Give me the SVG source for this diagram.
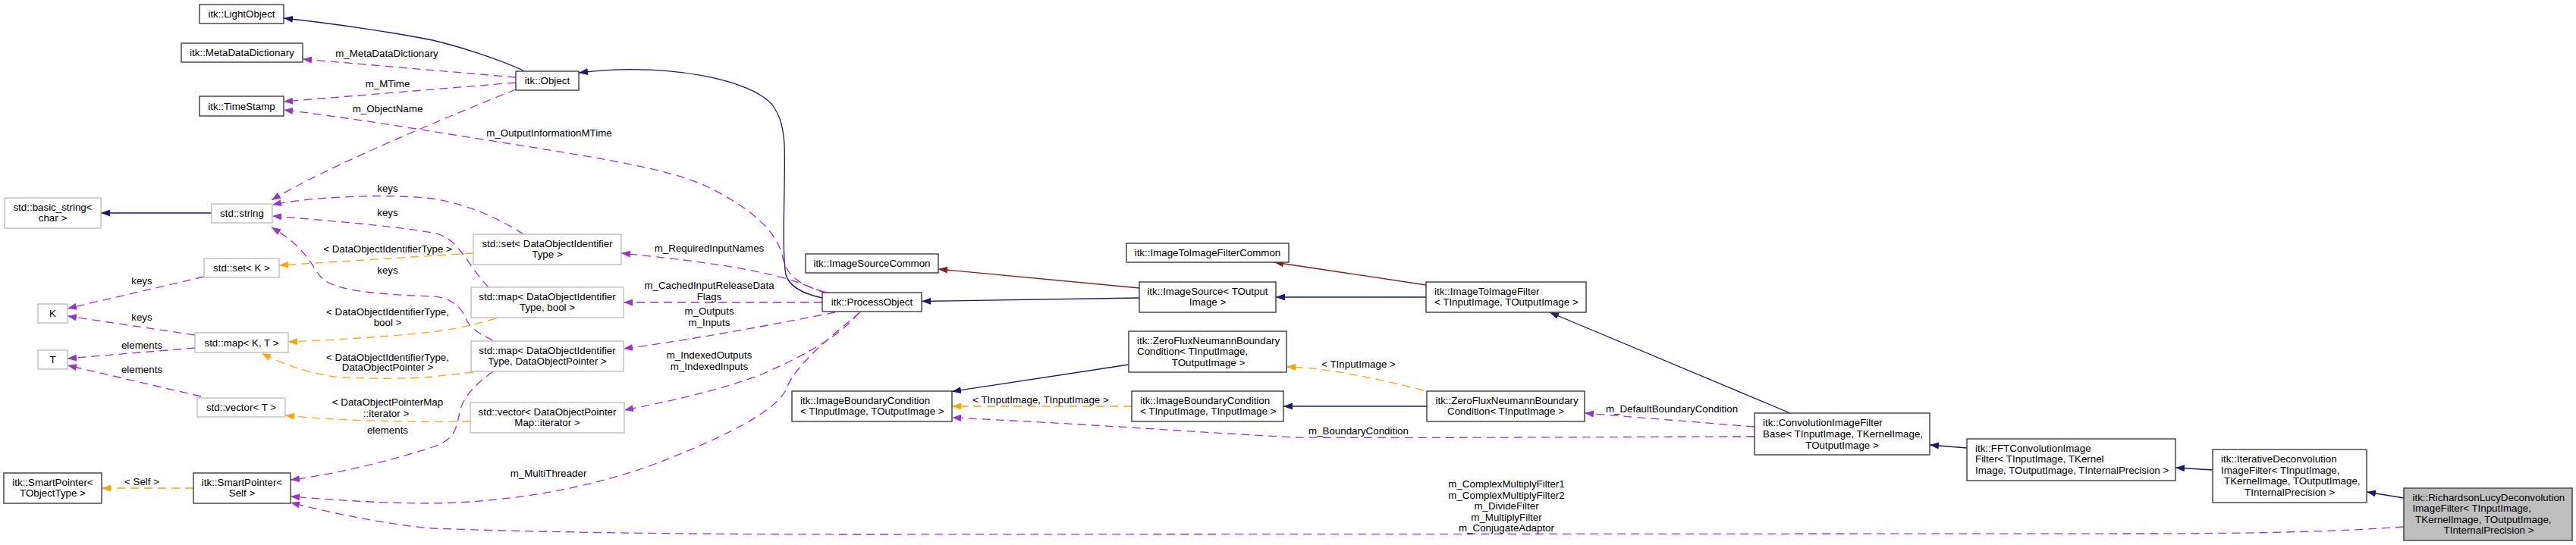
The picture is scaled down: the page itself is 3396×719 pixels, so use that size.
<svg xmlns="http://www.w3.org/2000/svg" width="3396" height="719" viewBox="0 0 3396 719">
<style>
text{font-family:"Liberation Sans",Arial,sans-serif;font-size:13.33px;fill:#000}
.m{text-anchor:middle}
.node rect{fill:#fff;stroke:#3c3c3c;stroke-width:1.4}
.node.gr rect{stroke:#bfbfbf}
.node.cur rect{fill:#bfbfbf}
.e path{fill:none;stroke-width:1.3}
.inh{stroke:#191970}
.prv{stroke:#8b1a1a}
.use{stroke:#9a32cd;stroke-dasharray:11,7}
.tpl{stroke:#ffa500;stroke-dasharray:11,7}
</style>
<defs>
<marker id="aB" viewBox="0 0 12 9" refX="12" refY="4.5" markerWidth="12" markerHeight="9" markerUnits="userSpaceOnUse" orient="auto"><path d="M0,0L12,4.5L0,9z" fill="#191970"/></marker>
<marker id="aR" viewBox="0 0 12 9" refX="12" refY="4.5" markerWidth="12" markerHeight="9" markerUnits="userSpaceOnUse" orient="auto"><path d="M0,0L12,4.5L0,9z" fill="#8b1a1a"/></marker>
<marker id="aP" viewBox="0 0 12 9" refX="12" refY="4.5" markerWidth="12" markerHeight="9" markerUnits="userSpaceOnUse" orient="auto"><path d="M0,0L12,4.5L0,9z" fill="#9a32cd"/></marker>
<marker id="aO" viewBox="0 0 12 9" refX="12" refY="4.5" markerWidth="12" markerHeight="9" markerUnits="userSpaceOnUse" orient="auto"><path d="M0,0L12,4.5L0,9z" fill="#ffa500"/></marker>
</defs>
<rect width="3396" height="719" fill="#fff"/>
<g id="connectors" class="e">
<path class="inh" marker-end="url(#aB)" d="M690,93 C650,75 600,60 570,53 C520,43 440,31 374,24"/>
<path class="inh" marker-end="url(#aB)" d="M1084,393 C1060,388 1040,378 1036,362 C1030,330 1036,230 1034,190 C1032,160 1025,148 1018,138 C990,105 880,82 763,96"/>
<path class="inh" marker-end="url(#aB)" d="M1502,393 L1215,397.5"/>
<path class="inh" marker-end="url(#aB)" d="M1880,392 L1682,392"/>
<path class="inh" marker-end="url(#aB)" d="M2360,545 L2043,412"/>
<path class="inh" marker-end="url(#aB)" d="M2593,591 L2544,587"/>
<path class="inh" marker-end="url(#aB)" d="M2917,620 L2868,617"/>
<path class="inh" marker-end="url(#aB)" d="M3169,657 L3120,649"/>
<path class="inh" marker-end="url(#aB)" d="M1488,481 L1255,516.5"/>
<path class="inh" marker-end="url(#aB)" d="M1881,536 L1692,536"/>
<path class="inh" marker-end="url(#aB)" d="M279,281 L133,281"/>
<path class="prv" marker-end="url(#aR)" d="M1502,380 L1237,355"/>
<path class="prv" marker-end="url(#aR)" d="M1880,376 L1680,346"/>
<path class="use" marker-end="url(#aP)" d="M680,102 L399,78"/>
<text class="m" x="510" y="75">m_MetaDataDictionary</text>
<path class="use" marker-end="url(#aP)" d="M680,109 L374,134"/>
<text class="m" x="511" y="115">m_MTime</text>
<path class="use" marker-end="url(#aP)" d="M1090,386 C1050,376 1036,360 1032,340 C1025,305 990,275 934,247 C880,222 800,210 643,185 C560,172 460,155 374,145"/>
<text class="m" x="724" y="180">m_OutputInformationMTime</text>
<path class="use" marker-end="url(#aP)" d="M680,118 C600,150 430,220 358,264"/>
<text class="m" x="511" y="148">m_ObjectName</text>
<path class="use" marker-end="url(#aP)" d="M690,309 C661,290 620,270 570,262 C520,256 420,258 359,270"/>
<text class="m" x="511" y="253">keys</text>
<path class="use" marker-end="url(#aP)" d="M644,379 C630,365 615,340 606,330 C595,315 580,308 570,307 C520,298 420,290 359,285"/>
<text class="m" x="511" y="285">keys</text>
<path class="use" marker-end="url(#aP)" d="M650,449 C630,440 620,432 615,422 C608,405 595,392 570,391 C520,389 450,386 428,370 C412,358 410,330 358,300"/>
<text class="m" x="511" y="361">keys</text>
<path class="use" marker-end="url(#aP)" d="M269,365 L89,407"/>
<text class="m" x="187" y="375">keys</text>
<path class="use" marker-end="url(#aP)" d="M257,442 L89,417"/>
<text class="m" x="187" y="423">keys</text>
<path class="use" marker-end="url(#aP)" d="M257,459 L89,473"/>
<text class="m" x="187" y="460">elements</text>
<path class="use" marker-end="url(#aP)" d="M265,523 L89,482"/>
<text class="m" x="187" y="492">elements</text>
<path class="tpl" marker-end="url(#aO)" d="M624,334 L368,350"/>
<text class="m" x="511" y="333">&lt; DataObjectIdentifierType &gt;</text>
<path class="tpl" marker-end="url(#aO)" d="M654,420 C620,430 590,436 570,438 C500,445 430,449 380,451"/>
<text class="m" x="511" y="416">&lt; DataObjectIdentifierType,</text>
<text class="m" x="511" y="430">bool &gt;</text>
<path class="tpl" marker-end="url(#aO)" d="M624,491 L570,497 C540,500 480,500 440,497 C410,492 380,484 345,466"/>
<text class="m" x="511" y="476">&lt; DataObjectIdentifierType,</text>
<text class="m" x="511" y="489">DataObjectPointer &gt;</text>
<path class="tpl" marker-end="url(#aO)" d="M620,556 C560,557 450,556 376,548"/>
<text class="m" x="511" y="535">&lt; DataObjectPointerMap</text>
<text class="m" x="509" y="550">::iterator &gt;</text>
<path class="use" marker-end="url(#aP)" d="M650,490 C630,505 612,520 606,543 C602,565 600,580 570,590 C530,603 450,625 383,633"/>
<text class="m" x="511" y="572">elements</text>
<path class="tpl" marker-end="url(#aO)" d="M255,644 L134,644"/>
<text class="m" x="187" y="640">&lt; Self &gt;</text>
<path class="use" marker-end="url(#aP)" d="M1134,412 C1100,440 1050,480 1038,510 C1028,540 960,575 861,613 C760,650 650,663 570,664 C500,664 450,660 383,655"/>
<text class="m" x="723" y="629">m_MultiThreader</text>
<path class="use" marker-end="url(#aP)" d="M3169,695 C3100,700 3000,704 2826,704 L1140,705 C900,705 700,702 570,697 C520,693 450,680 383,663"/>
<text class="m" x="1986" y="643">m_ComplexMultiplyFilter1</text>
<text class="m" x="1986" y="657.5">m_ComplexMultiplyFilter2</text>
<text class="m" x="1986" y="672">m_DivideFilter</text>
<text class="m" x="1986" y="686.5">m_MultiplyFilter</text>
<text class="m" x="1986" y="701">m_ConjugateAdaptor</text>
<path class="use" marker-end="url(#aP)" d="M1086,386 C1060,375 1040,367 1006,360 C960,350 900,342 819,334"/>
<text class="m" x="935" y="332">m_RequiredInputNames</text>
<path class="use" marker-end="url(#aP)" d="M1084,399 L822,399"/>
<text class="m" x="935" y="380.5">m_CachedInputReleaseData</text>
<text class="m" x="935" y="395.5">Flags</text>
<path class="use" marker-end="url(#aP)" d="M1101,412 C1000,432 900,450 822,460"/>
<text class="m" x="935" y="415">m_Outputs</text>
<text class="m" x="935" y="430">m_Inputs</text>
<path class="use" marker-end="url(#aP)" d="M1132,413 C1110,440 1070,465 1006,493 C950,515 880,530 823,541"/>
<text class="m" x="935" y="473">m_IndexedOutputs</text>
<text class="m" x="935" y="488">m_IndexedInputs</text>
<path class="use" marker-end="url(#aP)" d="M2313,576 L2280,576 C2000,577 1800,578 1710,577 C1600,572 1450,560 1255,551"/>
<text class="m" x="1791" y="572.5">m_BoundaryCondition</text>
<path class="use" marker-end="url(#aP)" d="M2313,563 C2250,558 2150,550 2089,545"/>
<text class="m" x="2204" y="543.5">m_DefaultBoundaryCondition</text>
<path class="tpl" marker-end="url(#aO)" d="M1877,515 C1800,495 1740,485 1696,484"/>
<text class="m" x="1791" y="485">&lt; TInputImage &gt;</text>
<path class="tpl" marker-end="url(#aO)" d="M1492,536 L1255,536"/>
<text class="m" x="1372" y="532">&lt; TInputImage, TInputImage &gt;</text>
</g>
<g id="n_LightObject" class="node"><rect x="263" y="6" width="111" height="25"/><text class="m" x="318.5" y="23">itk::LightObject</text></g>
<g id="n_MetaDataDictionary" class="node"><rect x="239" y="57" width="160" height="25"/><text class="m" x="319" y="74">itk::MetaDataDictionary</text></g>
<g id="n_TimeStamp" class="node"><rect x="263" y="127" width="111" height="26"/><text class="m" x="318.5" y="144.5">itk::TimeStamp</text></g>
<g id="n_basic_string" class="node gr"><rect x="6" y="261" width="127" height="40"/><text class="m" x="69.5" y="277.5">std::basic_string&lt;</text><text class="m" x="69.5" y="292">char &gt;</text></g>
<g id="n_string" class="node gr"><rect x="279" y="269" width="80" height="25"/><text class="m" x="319" y="286">std::string</text></g>
<g id="n_setK" class="node gr"><rect x="269" y="341" width="99" height="25"/><text class="m" x="318.5" y="358">std::set&lt; K &gt;</text></g>
<g id="n_K" class="node gr"><rect x="50" y="401" width="39" height="25"/><text class="m" x="69.5" y="418">K</text></g>
<g id="n_T" class="node gr"><rect x="50" y="462" width="39" height="25"/><text class="m" x="69.5" y="479">T</text></g>
<g id="n_mapKT" class="node gr"><rect x="257" y="439" width="123" height="26"/><text class="m" x="318.5" y="456.5">std::map&lt; K, T &gt;</text></g>
<g id="n_vectorT" class="node gr"><rect x="260" y="525" width="116" height="25"/><text class="m" x="318" y="542">std::vector&lt; T &gt;</text></g>
<g id="n_SP_TObjectType" class="node"><rect x="5" y="624" width="129" height="40"/><text class="m" x="69.5" y="640.5">itk::SmartPointer&lt;</text><text class="m" x="69.5" y="655">TObjectType &gt;</text></g>
<g id="n_SP_Self" class="node"><rect x="255" y="624" width="128" height="40"/><text class="m" x="319" y="640.5">itk::SmartPointer&lt;</text><text class="m" x="319" y="655">Self &gt;</text></g>
<g id="n_Object" class="node"><rect x="680" y="94" width="83" height="25"/><text class="m" x="721.5" y="111">itk::Object</text></g>
<g id="n_setDOIT" class="node gr"><rect x="624" y="309" width="195" height="40"/><text class="m" x="721.5" y="325.5">std::set&lt; DataObjectIdentifier</text><text class="m" x="721.5" y="340">Type &gt;</text></g>
<g id="n_mapBool" class="node gr"><rect x="621" y="379" width="201" height="40"/><text class="m" x="721.5" y="395.5">std::map&lt; DataObjectIdentifier</text><text class="m" x="721.5" y="410">Type, bool &gt;</text></g>
<g id="n_mapDOP" class="node gr"><rect x="621" y="450" width="201" height="40"/><text class="m" x="721.5" y="466.5">std::map&lt; DataObjectIdentifier</text><text class="m" x="721.5" y="481">Type, DataObjectPointer &gt;</text></g>
<g id="n_vecIter" class="node gr"><rect x="620" y="531" width="203" height="40"/><text class="m" x="721.5" y="547.5">std::vector&lt; DataObjectPointer</text><text class="m" x="721.5" y="562">Map::iterator &gt;</text></g>
<g id="n_ProcessObject" class="node"><rect x="1084" y="386" width="131" height="25"/><text class="m" x="1149.5" y="403">itk::ProcessObject</text></g>
<g id="n_ImageSourceCommon" class="node"><rect x="1062" y="335" width="175" height="25"/><text class="m" x="1149.5" y="352">itk::ImageSourceCommon</text></g>
<g id="n_IBC_TIn_TOut" class="node"><rect x="1044" y="516" width="211" height="40"/><text x="1055" y="532.5">itk::ImageBoundaryCondition</text><text x="1055" y="547">&lt; TInputImage, TOutputImage &gt;</text></g>
<g id="n_ImageSource" class="node"><rect x="1502" y="372" width="180" height="40"/><text class="m" x="1592" y="388.5">itk::ImageSource&lt; TOutput</text><text class="m" x="1592" y="403">Image &gt;</text></g>
<g id="n_ZeroFlux_TIn_TOut" class="node"><rect x="1488" y="437" width="208" height="54"/><text x="1499" y="453.5">itk::ZeroFluxNeumannBoundary</text><text x="1499" y="468">Condition&lt; TInputImage,</text><text class="m" x="1593" y="482.5">TOutputImage &gt;</text></g>
<g id="n_IBC_TIn_TIn" class="node"><rect x="1492" y="516" width="200" height="40"/><text x="1503" y="532.5">itk::ImageBoundaryCondition</text><text x="1503" y="547">&lt; TInputImage, TInputImage &gt;</text></g>
<g id="n_ImageToImageFilterCommon" class="node"><rect x="1485" y="321" width="214" height="25"/><text class="m" x="1592" y="338">itk::ImageToImageFilterCommon</text></g>
<g id="n_ImageToImageFilter" class="node"><rect x="1880" y="372" width="211" height="40"/><text x="1891" y="388.5">itk::ImageToImageFilter</text><text x="1891" y="403">&lt; TInputImage, TOutputImage &gt;</text></g>
<g id="n_ZeroFlux_TIn" class="node"><rect x="1881" y="516" width="208" height="40"/><text x="1892.5" y="532.5">itk::ZeroFluxNeumannBoundary</text><text class="m" x="1985" y="547">Condition&lt; TInputImage &gt;</text></g>
<g id="n_ConvolutionImageFilterBase" class="node"><rect x="2313" y="545" width="231" height="55"/><text x="2324" y="562">itk::ConvolutionImageFilter</text><text x="2324" y="577">Base&lt; TInputImage, TKernelImage,</text><text class="m" x="2428.5" y="591.5">TOutputImage &gt;</text></g>
<g id="n_FFTConvolutionImageFilter" class="node"><rect x="2593" y="579" width="275" height="55"/><text x="2604" y="595.5">itk::FFTConvolutionImage</text><text x="2604" y="610">Filter&lt; TInputImage, TKernel</text><text x="2604" y="624.5">Image, TOutputImage, TInternalPrecision &gt;</text></g>
<g id="n_IterativeDeconvolutionImageFilter" class="node"><rect x="2917" y="593" width="203" height="70"/><text x="2928" y="610">itk::IterativeDeconvolution</text><text x="2928" y="624.5">ImageFilter&lt; TInputImage,</text><text x="2932" y="639">TKernelImage, TOutputImage,</text><text class="m" x="3018.5" y="653.5">TInternalPrecision &gt;</text></g>
<g id="n_RichardsonLucyDeconvolutionImageFilter" class="node cur"><rect x="3169" y="644" width="222" height="69"/><text x="3180.5" y="660.5">itk::RichardsonLucyDeconvolution</text><text x="3180.5" y="675">ImageFilter&lt; TInputImage,</text><text x="3184" y="689.5">TKernelImage, TOutputImage,</text><text class="m" x="3281" y="704">TInternalPrecision &gt;</text></g>
</svg>
